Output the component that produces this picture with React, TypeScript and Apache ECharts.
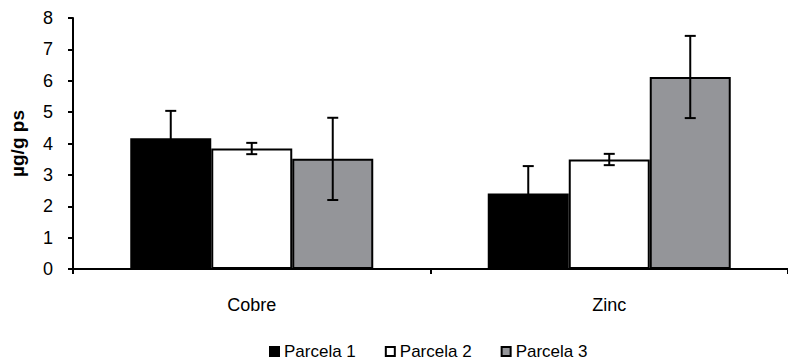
import React, { useEffect, useRef } from "react";
import * as echarts from "echarts";

const categories = ["Cobre", "Zinc"];
const seriesNames = ["Parcela 1", "Parcela 2", "Parcela 3"];
const parcela1 = [4.17, 2.41];
const parcela2 = [3.84, 3.49];
const parcela3 = [3.51, 6.12];
const err1 = [0.87, 0.87];
const err2 = [0.18, 0.18];
const err3 = [1.31, 1.31];
const yTicks = [0, 1, 2, 3, 4, 5, 6, 7, 8];
const colors = ["#000000", "#ffffff", "#949599"];

const BAR_W = 81;

export default function App() {
  const ref = useRef<HTMLDivElement>(null);
  useEffect(() => {
    if (!ref.current) return;
    const chart = echarts.init(ref.current, undefined, { renderer: "svg" });
    const values = [parcela1, parcela2, parcela3];
    const errs = [err1, err2, err3];
    const barSeries = seriesNames.map((name, i) => ({
      name,
      type: "bar",
      data: values[i],
      barWidth: BAR_W,
      barGap: "0%",
      itemStyle: { color: colors[i], borderColor: "#000", borderWidth: 2 },
    }));
    const errSeries = seriesNames.map((name, i) => ({
      name: name + " err",
      type: "custom",
      z: 10,
      data: categories.map((_, k) => [k, values[i][k], errs[i][k]]),
      renderItem: (params: any, api: any) => {
        const x = api.value(0);
        const v = api.value(1);
        const e = api.value(2);
        const top = api.coord([x, v + e]);
        const bot = api.coord([x, v - e]);
        const cx = top[0] + (i - 1) * BAR_W;
        const hw = 5.5;
        const style = { stroke: "#000", lineWidth: 2 };
        return {
          type: "group",
          children: [
            { type: "line", shape: { x1: cx, y1: top[1], x2: cx, y2: bot[1] }, style },
            { type: "line", shape: { x1: cx - hw, y1: top[1], x2: cx + hw, y2: top[1] }, style },
            { type: "line", shape: { x1: cx - hw, y1: bot[1], x2: cx + hw, y2: bot[1] }, style },
          ],
        };
      },
    }));
    chart.setOption({
      animation: false,
      textStyle: { fontFamily: "Liberation Sans, Arial, sans-serif" },
      grid: { left: 65, top: 18, width: 730, height: 251, containLabel: false },
      legend: {
        data: seriesNames,
        top: 338,
        left: 264,
        icon: "rect",
        itemWidth: 9,
        itemHeight: 9,
        itemGap: 29,
        textStyle: { fontSize: 17, color: "#000", fontFamily: "Liberation Sans, Arial, sans-serif" },
      },
      xAxis: {
        type: "category",
        data: categories,
        axisLine: { lineStyle: { color: "#000", width: 2 } },
        axisTick: { show: true, length: 5, lineStyle: { color: "#000", width: 2 } },
        axisLabel: { fontSize: 18, color: "#000", margin: 27 },
      },
      yAxis: {
        type: "value",
        min: yTicks[0],
        max: yTicks[yTicks.length - 1],
        interval: 1,
        name: "µg/g ps",
        nameLocation: "middle",
        nameGap: 46,
        nameTextStyle: { fontSize: 19, fontWeight: "bold", color: "#000" },
        axisLine: { show: true, lineStyle: { color: "#000", width: 2 } },
        axisTick: { show: true, length: 5, lineStyle: { color: "#000", width: 2 } },
        axisLabel: { fontSize: 18, color: "#000", margin: 20 },
        splitLine: { show: false },
      },
      series: [...barSeries, ...errSeries],
    });
    return () => chart.dispose();
  }, []);
  return (
    <div
      ref={ref}
      style={{ position: "fixed", left: 0, top: 0, width: 788, height: 362, background: "#fff" }}
    />
  );
}
